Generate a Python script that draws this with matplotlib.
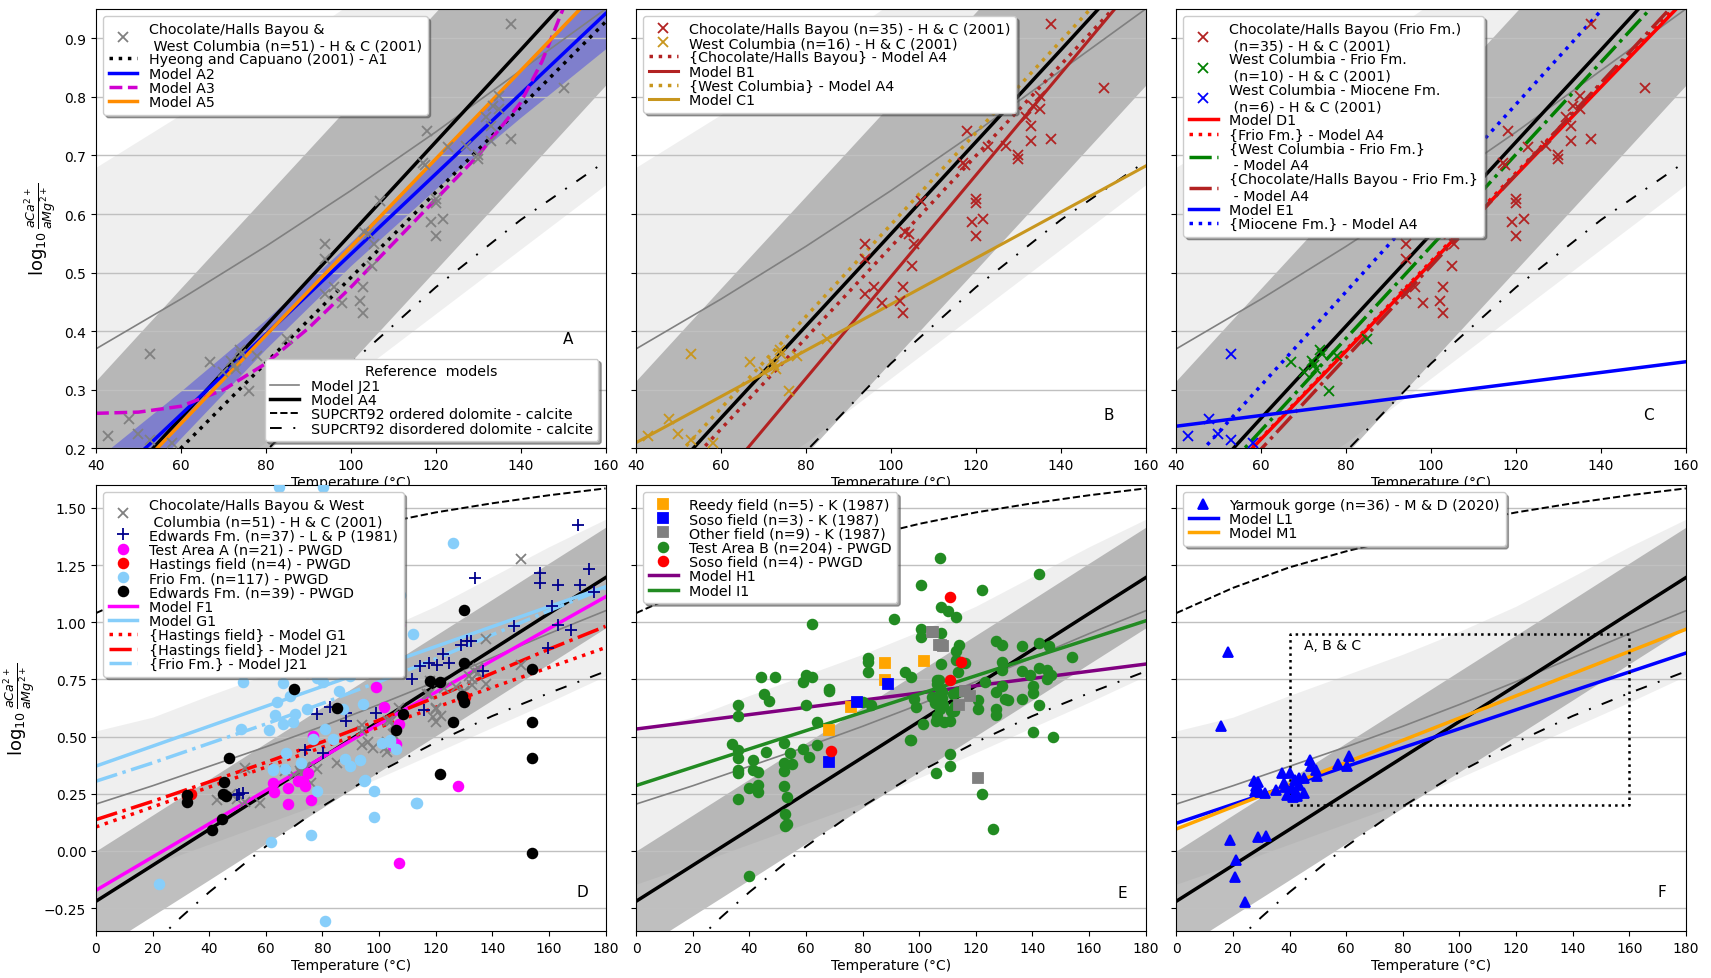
import numpy as np
import matplotlib
matplotlib.use('Agg')
from matplotlib import pyplot as plt

plt.rcParams['font.size'] = 10

# reference curves (T in degC, y = log10 aCa/aMg)
T_ref = [0, 20, 40, 60, 80, 100, 120, 140, 160, 180]
j21 = [0.205, 0.285, 0.37, 0.455, 0.545, 0.64, 0.74, 0.845, 0.95, 1.05]
j21_hi = [0.525, 0.585, 0.68, 0.77, 0.86, 0.96, 1.07, 1.2, 1.33, 1.45]
j21_lo = [-0.145, -0.06, 0.03, 0.12, 0.21, 0.32, 0.43, 0.54, 0.65, 0.765]
a4 = [-0.22, -0.063, 0.094, 0.252, 0.409, 0.566, 0.723, 0.88, 1.038, 1.195]
a4_hi = [0.0, 0.157, 0.314, 0.472, 0.629, 0.786, 0.943, 1.1, 1.258, 1.415]
a4_lo = [-0.44, -0.283, -0.126, 0.032, 0.189, 0.346, 0.503, 0.66, 0.818, 0.975]
ordered = [1.04, 1.15, 1.24, 1.31, 1.37, 1.43, 1.48, 1.52, 1.555, 1.585]
T_dis = [20, 30, 40, 60, 80, 100, 120, 140, 160, 180]
disordered = [-0.41, -0.29, -0.18, 0.02, 0.195, 0.345, 0.475, 0.59, 0.69, 0.785]

# panel A models
T_top = [40, 160]
a1 = [0.055, 0.928]
a2 = [0.121, 0.942]
T_a2 = [40, 60, 80, 100, 120, 140, 160]
a2_lo = [0.061, 0.218, 0.37, 0.512, 0.643, 0.765, 0.882]
a2_hi = [0.181, 0.298, 0.42, 0.552, 0.693, 0.845, 1.002]
T_a3 = [40, 50, 60, 70, 80, 90, 100, 110, 120, 130, 140, 145, 150]
a3 = [0.26, 0.262, 0.272, 0.3, 0.345, 0.405, 0.475, 0.55, 0.625, 0.7, 0.79, 0.86, 0.95]
a5 = [0.092, 0.995]

# panel B models
choc_a4 = [0.078, 1.01]
b1 = [-0.027, 1.013]
wc_a4 = [0.112, 1.052]
c1 = [0.21, 0.682]

# panel C models
d1 = [0.066, 0.967]
frio_a4 = [0.067, 0.972]
wcf_a4 = [0.074, 1.016]
chf_a4 = [0.043, 0.98]
e1 = [0.238, 0.348]
mio_a4 = [0.148, 1.107]

# panel D-F models
T_full = [0, 180]
T_f1 = [0, 100, 180]
f1 = [-0.172, 0.555, 1.111]
g1 = [0.371, 1.155]
hast_g1 = [0.105, 0.889]
hast_j21 = [0.137, 0.217, 0.302, 0.387, 0.477, 0.572, 0.672, 0.777, 0.882, 0.982]
frio_j21 = [0.305, 0.385, 0.47, 0.555, 0.645, 0.74, 0.84, 0.945, 1.05, 1.15]
h1 = [0.533, 0.817]
i1 = [0.286, 1.006]
l1 = [0.121, 0.865]
m1 = [0.096, 0.969]
box_T = [40, 160]
box_v = [0.2, 0.95]

# Hyeong & Capuano (2001) samples
hc_choc = np.array([
    [94.0, 0.549], [94.0, 0.524], [94.0, 0.463], [96.1, 0.476], [98.0, 0.448],
    [102.1, 0.452], [102.9, 0.432], [102.9, 0.476], [103.2, 0.569], [104.2, 0.566],
    [105.0, 0.512], [105.4, 0.549], [107.0, 0.623], [117.0, 0.688], [118.0, 0.742],
    [119.0, 0.587], [120.0, 0.625], [120.0, 0.619], [120.0, 0.562], [121.8, 0.592],
    [122.9, 0.714], [127.1, 0.717], [130.0, 0.700], [130.0, 0.694], [131.8, 0.765],
    [133.0, 0.751], [133.0, 0.725], [135.0, 0.779], [135.0, 0.802], [137.7, 0.925],
    [137.7, 0.728], [150.3, 0.815], [150.0, 1.277], [133.5, 0.785], [117.5, 0.684]])
hc_wc_frio = np.array([
    [66.9, 0.348], [70.0, 0.331], [71.9, 0.350], [72.9, 0.335], [73.8, 0.368],
    [74.2, 0.362], [76.0, 0.298], [77.9, 0.357], [85.0, 0.386], [72.5, 0.342]])
hc_wc_mio = np.array([
    [42.8, 0.221], [47.8, 0.251], [49.9, 0.225], [52.8, 0.361], [52.8, 0.214], [58.0, 0.210]])
hc_wc = np.vstack([hc_wc_mio, hc_wc_frio])
hc_all = np.vstack([hc_choc, hc_wc])

# panel D samples
edwards_lp = np.array([
    [170.2, 1.425], [133.9, 1.195], [156.9, 1.217], [156.9, 1.170], [163.2, 1.163],
    [174.0, 1.232], [170.9, 1.163], [175.8, 1.130], [161.1, 1.070], [163.2, 0.990],
    [167.8, 0.966], [147.8, 0.985], [159.7, 0.889], [129.0, 0.901], [131.1, 0.919],
    [132.5, 0.919], [122.7, 0.862], [124.8, 0.823], [117.8, 0.823], [120.6, 0.815],
    [114.3, 0.808], [111.5, 0.753], [136.8, 0.785], [116.0, 0.615], [98.9, 0.605],
    [88.3, 0.605], [88.3, 0.568], [82.7, 0.631], [77.9, 0.600], [73.8, 0.442],
    [80.3, 0.428], [49.7, 0.243], [52.0, 0.254], [50.5, 0.250]])
test_a = np.array([
    [62.6, 0.295], [62.9, 0.258], [67.9, 0.276], [67.9, 0.204], [71.5, 0.307],
    [73.2, 0.307], [73.8, 0.283], [75.0, 0.342], [75.8, 0.224], [76.8, 0.504],
    [98.9, 0.715], [101.9, 0.631], [105.0, 0.460], [105.9, 0.468], [106.9, 0.553],
    [106.9, 0.988], [102.9, 0.888], [128.0, 0.283], [106.9, -0.052]])
hastings = np.array([[32.3, 0.24], [33.5, 0.25], [129.5, 0.665], [130.5, 0.675]])
frio = np.array([
    [64.7, 1.59], [80.1, 1.59], [126.2, 1.348], [107.3, 1.118], [112.0, 0.948],
    [112.9, 0.211], [98.2, 0.260], [98.2, 0.150], [94.7, 0.305], [89.9, 0.371],
    [87.8, 0.401], [78.0, 0.260], [75.9, 0.068], [61.9, 0.038], [22.1, -0.143],
    [80.8, -0.305], [105.9, 0.445], [103.8, 0.475], [104.5, 1.215], [103.1, 1.022],
    [93.3, 0.919], [78.0, 1.244], [76.6, 1.007], [80.8, 1.007], [83.6, 0.985],
    [62.6, 0.993], [66.1, 0.734], [66.8, 0.860], [76.6, 0.911], [78.0, 0.756],
    [64.0, 0.652], [70.3, 0.600], [69.6, 0.564], [66.1, 0.556], [63.3, 0.593],
    [61.2, 0.527], [51.4, 0.534], [62.6, 0.357], [66.8, 0.357], [72.4, 0.386],
    [76.6, 0.490], [80.8, 0.534], [83.6, 0.490], [52.0, 0.737], [62.7, 0.354],
    [67.3, 0.428], [74.4, 0.619], [87.4, 0.619], [80.3, 0.737], [82.7, 0.811],
    [88.5, 0.855], [74.4, 0.782], [68.5, 0.678], [89.7, 0.767], [95.0, 0.310],
    [113.3, 0.209], [104.5, 1.298], [90.9, 1.298], [92.1, 0.885], [97.9, 0.833],
    [94.4, 0.642], [93.3, 0.398], [100.9, 0.472], [103.9, 0.487], [85.0, 1.30],
    [89.0, 1.30], [72.5, 1.08], [80.0, 1.15], [70.0, 0.95], [86.0, 0.70]])
edwards_pwgd = np.array([
    [32.0, 0.214], [32.0, 0.243], [40.9, 0.091], [45.2, 0.302], [44.7, 0.251],
    [45.9, 0.239], [47.1, 0.406], [44.5, 0.140], [69.9, 0.708], [85.0, 0.624],
    [118.0, 0.742], [121.7, 0.737], [130.0, 1.055], [130.0, 0.822], [129.2, 0.676],
    [130.0, 0.652], [126.0, 0.565], [121.7, 0.336], [153.9, 0.796], [153.9, 0.565],
    [153.9, 0.406], [153.9, -0.010], [105.9, 0.528], [108.6, 0.597]])

# panel E samples
reedy = np.array([[87.8, 0.821], [87.8, 0.747], [101.7, 0.831], [75.9, 0.629], [68.0, 0.530]])
soso_k = np.array([[89.0, 0.732], [78.1, 0.651], [68.0, 0.388]])
other_k = np.array([[104.9, 0.959], [107.8, 0.902], [108.3, 0.898], [116.1, 0.698], [117.9, 0.678],
                    [114.2, 0.636], [120.9, 0.318], [106.9, 0.900], [104.5, 0.958]])
test_b = np.array([
    [35.9, 0.639], [35.9, 0.592], [33.9, 0.466], [35.9, 0.441], [35.9, 0.407],
    [35.9, 0.355], [35.9, 0.340], [35.9, 0.229], [39.9, -0.111], [39.9, 0.274],
    [41.2, 0.399], [41.2, 0.355], [43.0, 0.343], [43.0, 0.288], [43.0, 0.259],
    [44.0, 0.762], [45.2, 0.688], [46.0, 0.432], [47.0, 0.654], [49.1, 0.762],
    [52.1, 0.473], [52.1, 0.385], [52.1, 0.348], [52.1, 0.284], [53.3, 0.237],
    [52.7, 0.163], [53.3, 0.118], [52.7, 0.111], [54.2, 0.429], [55.2, 0.382],
    [58.8, 0.447], [59.0, 0.737], [60.0, 0.769], [60.0, 0.636], [61.0, 0.410],
    [62.2, 0.762], [62.2, 0.991], [63.9, 0.565], [63.9, 0.462], [68.0, 0.710],
    [68.0, 0.698], [82.0, 0.843], [82.0, 0.825], [82.0, 0.781], [82.9, 0.639], [80.1, 0.651],
    [91.1, 1.016], [95.1, 0.784], [97.2, 0.762], [97.2, 0.485], [98.0, 0.666],
    [99.0, 0.629], [100.8, 1.161], [100.8, 0.969], [100.8, 0.935], [101.2, 0.555],
    [106.1, 0.340], [107.5, 1.280], [107.8, 1.065], [110.0, 1.050], [107.8, 0.954],
    [107.8, 0.900], [107.8, 0.817], [107.0, 0.747], [107.5, 0.710], [108.1, 0.669],
    [106.3, 0.592], [107.5, 0.621], [111.0, 0.570], [111.0, 0.426], [111.0, 0.373],
    [112.2, 0.614], [113.0, 1.024], [113.0, 0.873], [113.0, 0.836], [113.6, 0.784],
    [114.2, 0.902], [113.4, 0.695], [116.1, 0.821], [120.9, 0.658], [120.9, 0.621],
    [122.2, 1.139], [122.2, 0.249], [123.1, 0.740], [126.1, 0.096], [127.0, 0.917],
    [129.2, 0.902], [127.0, 0.695], [127.0, 0.621], [127.0, 0.595], [129.2, 0.722],
    [129.2, 0.828], [130.4, 0.666], [131.3, 0.658], [136.2, 0.895], [136.2, 0.787],
    [136.2, 0.663], [139.2, 0.769], [140.2, 0.722], [140.2, 0.692], [140.2, 0.521],
    [142.2, 1.210], [142.2, 0.910], [142.2, 0.799], [142.2, 0.639], [145.3, 0.791],
    [145.9, 0.895], [146.5, 0.769], [147.1, 0.500], [153.8, 0.846], [145.3, 0.751],
    [108.8, 0.562], [106.3, 0.749], [106.3, 0.730], [107.9, 0.693], [106.7, 0.671],
    [105.6, 0.649], [104.4, 0.671], [108.5, 0.637], [111.4, 0.612], [112.6, 0.634],
    [112.0, 0.686], [114.9, 0.701], [129.1, 0.789], [96.7, 0.487], [105.8, 0.568]])
soso_pwgd = np.array([[111.0, 1.112], [114.8, 0.825], [111.0, 0.747], [68.8, 0.436]])

# panel F samples
yarmouk = np.array([
    [18.4, 0.870], [15.9, 0.547], [19.0, 0.047], [21.2, -0.041], [20.9, -0.115],
    [24.2, -0.225], [28.9, 0.062], [31.8, 0.067], [27.4, 0.308], [28.7, 0.303],
    [27.8, 0.263], [29.5, 0.259], [31.2, 0.254], [35.1, 0.266], [37.4, 0.340],
    [38.2, 0.299], [39.0, 0.244], [40.1, 0.340], [41.3, 0.237], [42.6, 0.251],
    [41.9, 0.311], [43.2, 0.318], [45.1, 0.318], [45.1, 0.254], [47.3, 0.396],
    [47.5, 0.373], [49.4, 0.355], [49.8, 0.328], [57.2, 0.382], [60.2, 0.370],
    [60.9, 0.414], [40.7, 0.274], [42.5, 0.240], [38.5, 0.280], [43.5, 0.290], [28.0, 0.285]])

gold = '#c8961e'


def draw_reference(ax):
    ax.fill_between(T_ref, j21_lo, j21_hi, color='gray', alpha=0.12, lw=0)
    ax.fill_between(T_ref, a4_lo, a4_hi, color='gray', alpha=0.5, lw=0)
    l_j21, = ax.plot(T_ref, j21, color='gray', lw=1.2, label='Model J21')
    l_a4, = ax.plot(T_ref, a4, color='black', lw=2.5, label='Model A4')
    l_ord, = ax.plot(T_ref, ordered, color='black', ls='--', lw=1.4,
                     label='SUPCRT92 ordered dolomite - calcite')
    l_dis, = ax.plot(T_dis, disordered, color='black', ls=(0, (6, 6, 1, 6)), lw=1.4,
                     label='SUPCRT92 disordered dolomite - calcite')
    ax.grid(axis='y', color='#c0c0c0', lw=1)
    return [l_j21, l_a4, l_ord, l_dis]


def pts(ax, data, marker, color, label, ms=7, mew=1.3):
    h, = ax.plot(data[:, 0], data[:, 1], ls='none', marker=marker, ms=ms,
                 color=color, mec=color, mew=mew, label=label, zorder=3)
    return h


fig = plt.figure(figsize=(17.11, 9.79), dpi=100)
lefts = [0.0561, 0.3718, 0.6875]
w = 0.2978
axA, axB, axC = [fig.add_axes([x, 0.5409, w, 0.4489]) for x in lefts]
axD, axE, axF = [fig.add_axes([x, 0.048, w, 0.4556]) for x in lefts]

for ax in (axA, axB, axC):
    ax.set_xlim(40, 160)
    ax.set_ylim(0.2, 0.95)
    ax.set_xticks(range(40, 161, 20))
    ax.set_yticks(np.arange(0.2, 0.91, 0.1))
for ax in (axD, axE, axF):
    ax.set_xlim(0, 180)
    ax.set_ylim(-0.35, 1.6)
    ax.set_xticks(range(0, 181, 20))
    ax.set_yticks(np.arange(-0.25, 1.51, 0.25))
for ax in (axA, axB, axC, axD, axE, axF):
    ax.set_xlabel('Temperature (°C)', labelpad=2)
for ax in (axB, axC, axE, axF):
    ax.tick_params(labelleft=False)
ylab = r'$\log_{10}\frac{aCa^{2+}}{aMg^{2+}}$'
axA.set_ylabel(ylab, fontsize=13)
axD.set_ylabel(ylab, fontsize=13)

leg_kw = dict(loc='upper left', shadow=True, fontsize=10.3, labelspacing=0.02)

# ---- A
ref = draw_reference(axA)
axA.fill_between(T_a2, a2_lo, a2_hi, color='blue', alpha=0.3, lw=0)
hA = [pts(axA, hc_all, 'x', 'gray', 'Chocolate/Halls Bayou &\n West Columbia (n=51) - H & C (2001)')]
hA += axA.plot(T_top, a1, 'k:', lw=2.5, label='Hyeong and Capuano (2001) - A1')
hA += axA.plot(T_top, a2, color='blue', lw=2.5, label='Model A2')
hA += axA.plot(T_a3, a3, color='#d000d0', ls='--', lw=2.5, label='Model A3')
hA += axA.plot(T_top, a5, color='darkorange', lw=2.5, label='Model A5')
legA = axA.legend(handles=hA, **leg_kw)
axA.add_artist(legA)
axA.legend(handles=ref, title='Reference  models', loc='lower right', shadow=True,
           fontsize=10.3, title_fontsize=10.3, labelspacing=0.02)
axA.text(0.927, 0.251, 'A', transform=axA.transAxes, ha='center', va='center', fontsize=11)

# ---- B
draw_reference(axB)
hB = [pts(axB, hc_choc, 'x', 'firebrick', 'Chocolate/Halls Bayou (n=35) - H & C (2001)'),
      pts(axB, hc_wc, 'x', gold, 'West Columbia (n=16) - H & C (2001)')]
hB += axB.plot(T_top, choc_a4, color='firebrick', ls=':', lw=2.5, label='{Chocolate/Halls Bayou} - Model A4')
hB += axB.plot(T_top, b1, color='firebrick', lw=2.2, label='Model B1')
hB += axB.plot(T_top, wc_a4, color=gold, ls=':', lw=2.5, label='{West Columbia} - Model A4')
hB += axB.plot(T_top, c1, color=gold, lw=2.2, label='Model C1')
axB.legend(handles=hB, **leg_kw)
axB.text(0.927, 0.077, 'B', transform=axB.transAxes, ha='center', va='center', fontsize=11)

# ---- C
draw_reference(axC)
hC = [pts(axC, hc_choc, 'x', 'firebrick', 'Chocolate/Halls Bayou (Frio Fm.)\n (n=35) - H & C (2001)'),
      pts(axC, hc_wc_frio, 'x', 'green', 'West Columbia - Frio Fm.\n (n=10) - H & C (2001)'),
      pts(axC, hc_wc_mio, 'x', 'blue', 'West Columbia - Miocene Fm.\n (n=6) - H & C (2001)')]
hC += axC.plot(T_top, d1, color='red', lw=2.5, label='Model D1')
hC += axC.plot(T_top, frio_a4, color='red', ls=':', lw=2.5, label='{Frio Fm.} - Model A4')
hC += axC.plot(T_top, wcf_a4, color='green', ls='-.', lw=2.5, label='{West Columbia - Frio Fm.}\n - Model A4')
hC += axC.plot(T_top, chf_a4, color='firebrick', ls='-.', lw=2.5,
               label='{Chocolate/Halls Bayou - Frio Fm.}\n - Model A4')
hC += axC.plot(T_top, e1, color='blue', lw=2.5, label='Model E1')
hC += axC.plot(T_top, mio_a4, color='blue', ls=':', lw=2.5, label='{Miocene Fm.} - Model A4')
axC.legend(handles=hC, **leg_kw)
axC.text(0.927, 0.077, 'C', transform=axC.transAxes, ha='center', va='center', fontsize=11)

# ---- D
draw_reference(axD)
lD = axD.plot(T_f1, f1, color='magenta', lw=2.5, label='Model F1')
lD += axD.plot(T_full, g1, color='lightskyblue', lw=2.5, label='Model G1')
lD += axD.plot(T_full, hast_g1, color='red', ls=':', lw=2.5, label='{Hastings field} - Model G1')
lD += axD.plot(T_ref, hast_j21, color='red', ls='-.', lw=2.5, label='{Hastings field} - Model J21')
lD += axD.plot(T_ref, frio_j21, color='lightskyblue', ls='-.', lw=2.5, label='{Frio Fm.} - Model J21')
hD = [pts(axD, hc_all, 'x', 'gray', 'Chocolate/Halls Bayou & West\n Columbia (n=51) - H & C (2001)'),
      pts(axD, edwards_lp, '+', 'darkblue', 'Edwards Fm. (n=37) - L & P (1981)', ms=8),
      pts(axD, test_a, 'o', 'magenta', 'Test Area A (n=21) - PWGD'),
      pts(axD, hastings, 'o', 'red', 'Hastings field (n=4) - PWGD'),
      pts(axD, frio, 'o', 'lightskyblue', 'Frio Fm. (n=117) - PWGD'),
      pts(axD, edwards_pwgd, 'o', 'black', 'Edwards Fm. (n=39) - PWGD')]
axD.legend(handles=hD + lD, **leg_kw)
axD.text(0.955, 0.088, 'D', transform=axD.transAxes, ha='center', va='center', fontsize=11)

# ---- E
draw_reference(axE)
lE = axE.plot(T_full, h1, color='purple', lw=2.5, label='Model H1')
lE += axE.plot(T_full, i1, color='forestgreen', lw=2.5, label='Model I1')
hE = [pts(axE, test_b, 'o', 'forestgreen', 'Test Area B (n=204) - PWGD'),
      pts(axE, reedy, 's', 'orange', 'Reedy field (n=5) - K (1987)'),
      pts(axE, soso_k, 's', 'blue', 'Soso field (n=3) - K (1987)'),
      pts(axE, other_k, 's', 'gray', 'Other field (n=9) - K (1987)'),
      pts(axE, soso_pwgd, 'o', 'red', 'Soso field (n=4) - PWGD')]
axE.legend(handles=[hE[1], hE[2], hE[3], hE[0], hE[4]] + lE, **leg_kw)
axE.text(0.955, 0.087, 'E', transform=axE.transAxes, ha='center', va='center', fontsize=11)

# ---- F
draw_reference(axF)
lF = axF.plot(T_full, l1, color='blue', lw=2.5, label='Model L1')
lF += axF.plot(T_full, m1, color='orange', lw=2.5, label='Model M1')
hF = [pts(axF, yarmouk, '^', 'blue', 'Yarmouk gorge (n=36) - M & D (2020)')]
axF.plot([box_T[0], box_T[1], box_T[1], box_T[0], box_T[0]],
         [box_v[0], box_v[0], box_v[1], box_v[1], box_v[0]], 'k:', lw=1.8)
axF.text(box_T[0] + 5, box_v[1] - 0.05, 'A, B & C', va='center', fontsize=10)
axF.legend(handles=hF + lF, **leg_kw)
axF.text(0.952, 0.088, 'F', transform=axF.transAxes, ha='center', va='center', fontsize=11)

fig.savefig('out.png', dpi=100)
